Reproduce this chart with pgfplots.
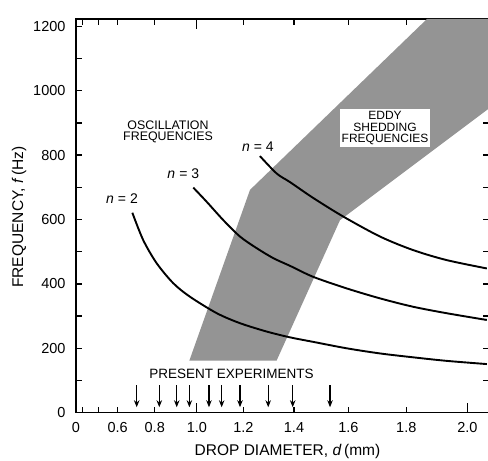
\documentclass[border=0pt]{standalone}
\usepackage{fontspec}
\setmainfont{Liberation Sans}
\usepackage{pgfplots}
\pgfplotsset{compat=1.18}
\usetikzlibrary{arrows.meta}

\begin{document}
\begin{tikzpicture}
\begin{axis}[
  scale only axis, width=413bp, height=393.7bp,
  x coord trafo/.code={\pgfmathparse{(#1)^1.5}},
  xmin=0.3233, xmax=2.0679, ymin=0, ymax=1222.7,
  axis line style={line width=1.5bp},
  tick align=inside,
  every tick/.style={black, line width=1.3bp},
  xtick={0.3233,0.6,0.8,1.0,1.2,1.4,1.6,1.8,2.0},
  xticklabels={0,0.6,0.8,1.0,1.2,1.4,1.6,1.8,2.0},
  minor xtick={0.3743,0.4818},
  extra x ticks={1.0,2.0},
  extra x tick labels={},
  extra x tick style={major tick length=10bp},
  ytick={0,200,...,1200},
  minor ytick={100,300,...,1100},
  major tick length=6bp,
  minor tick length=6bp,
  /pgf/number format/assume math mode=true,
  /pgf/number format/1000 sep={},
  tick label style={font=\fontsize{14.5bp}{15bp}\selectfont},
  yticklabel style={xshift=-7bp},
  xticklabel style={yshift=-6bp},
]
% eddy shedding band
\addplot[fill=black!42, draw=none] coordinates {
  (0.966,162) (1.227,692) (1.869,1222.7) (2.0679,1222.7) (2.0679,945)
  (1.570,598) (1.333,162)
} -- cycle;

% oscillation curves
\addplot[black, line width=1.9bp, smooth] coordinates {
  (0.683,621) (0.741,536) (0.810,464) (0.891,402) (0.969,360) (1.088,309)
  (1.186,278) (1.294,252) (1.385,234) (1.472,220) (1.594,200) (1.711,184)
  (1.823,172) (1.933,161) (2.061,151)
};
\addplot[black, line width=1.9bp, smooth] coordinates {
  (0.984,699) (1.044,655) (1.116,598) (1.186,547) (1.254,511) (1.320,480)
  (1.385,456) (1.472,422) (1.594,386) (1.711,355) (1.823,329) (1.933,309)
  (2.061,288)
};
\addplot[black, line width=1.9bp, smooth] coordinates {
  (1.267,797) (1.333,743) (1.385,716) (1.472,667) (1.582,609) (1.711,547)
  (1.823,505) (1.933,474) (2.061,448)
};

% present experiments
\pgfplotsinvokeforeach{0.7065,0.8229,0.9072,0.966,1.054,1.109,1.186,1.300,1.395,1.534}{
  \addplot[black, line width=1.1bp, -{Stealth[length=7bp,width=5.5bp]}] coordinates {(#1,86) (#1,17)};
}

\node[fill=white, inner sep=2bp, align=center, font=\fontsize{12bp}{11.7bp}\selectfont]
  at (axis cs:1.7279,884) {EDDY\\SHEDDING\\FREQUENCIES};
\node[align=center, font=\fontsize{12.4bp}{11bp}\selectfont]
  at (axis cs:0.8656,872) {OSCILLATION\\FREQUENCIES};
\node[font=\fontsize{13.5bp}{14bp}\selectfont] at (axis cs:1.1506,122) {PRESENT EXPERIMENTS};
\node[font=\fontsize{14bp}{14bp}\selectfont] at (axis cs:0.6253,666) {\textit{n}\hspace{4bp}= 2};
\node[font=\fontsize{14bp}{14bp}\selectfont] at (axis cs:0.9381,743) {\textit{n}\hspace{4bp}= 3};
\node[font=\fontsize{14bp}{14bp}\selectfont] at (axis cs:1.2592,826) {\textit{n}\hspace{4bp}= 4};
\end{axis}
\node[rotate=90, font=\fontsize{15.5bp}{16bp}\selectfont]
  at ([shift={(-57bp,195.7bp)}]current axis.south west) {FREQUENCY, \textit{f}\,(Hz)};
\node[font=\fontsize{15.5bp}{16bp}\selectfont]
  at ([shift={(211.5bp,-39bp)}]current axis.south west) {DROP DIAMETER, \textit{d}\,(mm)};
\pgfresetboundingbox
\path[use as bounding box] ([shift={(-76bp,-48.3bp)}]current axis.south west) rectangle ++(488bp,461bp);
\end{tikzpicture}
\end{document}
